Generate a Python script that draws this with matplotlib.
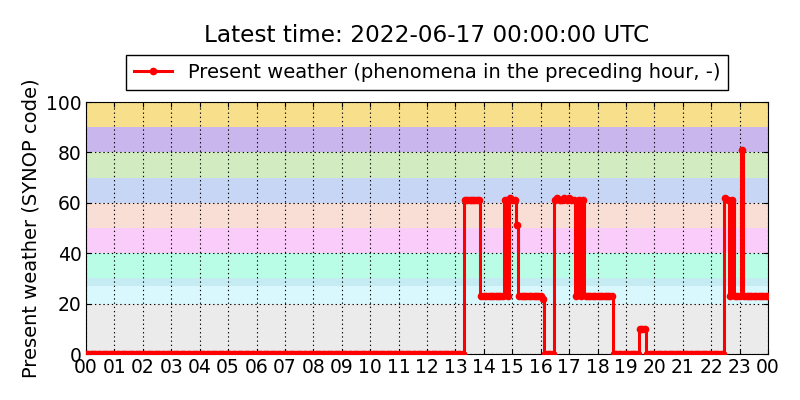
import pandas as pd
import matplotlib
matplotlib.use('Agg')
import matplotlib.pyplot as plt
import matplotlib.dates as mdates

# Present weather (SYNOP ww), 5-minute samples, one row per hour
ww_rows = [
    [0] * 12,  # 00
    [0] * 12,  # 01
    [0] * 12,  # 02
    [0] * 12,  # 03
    [0] * 12,  # 04
    [0] * 12,  # 05
    [0] * 12,  # 06
    [0] * 12,  # 07
    [0] * 12,  # 08
    [0] * 12,  # 09
    [0] * 12,  # 10
    [0] * 12,  # 11
    [0] * 12,  # 12
    [0, 0, 0, 0, 61, 61, 61, 61, 61, 61, 61, 23],          # 13
    [23, 23, 23, 23, 23, 23, 23, 23, 23, 61, 23, 62],      # 14
    [61, 61, 51, 23, 23, 23, 23, 23, 23, 23, 23, 23],      # 15
    [23, 22, 0, 0, 0, 0, 61, 62, 61, 61, 62, 61],          # 16
    [62, 61, 61, 23, 61, 23, 61, 23, 23, 23, 23, 23],      # 17
    [23, 23, 23, 23, 23, 23, 23, 0, 0, 0, 0, 0],           # 18
    [0, 0, 0, 0, 0, 0, 10, 10, 10, 0, 0, 0],               # 19
    [0] * 12,  # 20
    [0] * 12,  # 21
    [0, 0, 0, 0, 0, 0, 62, 61, 23, 61, 23, 23],            # 22
    [23, 81, 23, 23, 23, 23, 23, 23, 23, 23, 23, 23],      # 23
]
ww_last = 23  # value at 2022-06-17 00:00

# background bands for SYNOP code groups
band_lo = [0, 20, 27, 30, 40, 50, 60, 70, 80, 90]
band_hi = [20, 27, 30, 40, 50, 60, 70, 80, 90, 100]
band_col = ['#ebebeb', '#d9f8fd', '#c5ebf3', '#b9fde6', '#f9ccf9',
            '#f8ded5', '#c8d6f5', '#d2ebc1', '#c8b6ec', '#f7df8b']

values = [v for row in ww_rows for v in row] + [ww_last]
times = pd.date_range('2022-06-16 00:00', '2022-06-17 00:00', freq='5min')

plt.rcParams['font.family'] = 'DejaVu Sans'

fig = plt.figure(figsize=(8, 4), dpi=100)
ax = fig.add_axes([0.1075, 0.115, 0.8525, 0.63])

for lo, hi, c in zip(band_lo, band_hi, band_col):
    ax.axhspan(lo, hi, color=c, lw=0, zorder=0)

line, = ax.plot(times, values, color='red', marker='.', ms=9, lw=2.2,
                drawstyle='steps-mid',
                label='Present weather (phenomena in the preceding hour, -)', zorder=3)

ax.set_xlim(times[0], times[-1])
ax.set_ylim(0, 100)
ax.set_yticks([0, 20, 40, 60, 80, 100])
ax.xaxis.set_major_locator(mdates.HourLocator())
ax.xaxis.set_major_formatter(mdates.DateFormatter('%H'))
ax.tick_params(direction='in', top=True, right=True, labelsize=13.5, pad=3)
ax.grid(True, color='black', linestyle=(0, (1.2, 2.6)), linewidth=0.8, zorder=2)
ax.set_axisbelow(False)
ax.set_ylabel('Present weather (SYNOP code)', fontsize=14)

fig.text(427 / 800, 1 - 35 / 400, 'Latest time: 2022-06-17 00:00:00 UTC',
         ha='center', va='center', fontsize=16.7)
leg = fig.legend(handles=[line], loc='upper center', bbox_to_anchor=(427 / 800, 1 - 55 / 400),
                 numpoints=1, fontsize=14, fancybox=False, framealpha=1,
                 edgecolor='black', borderaxespad=0)
leg.get_frame().set_linewidth(1)

fig.savefig('out.png', dpi=100)
